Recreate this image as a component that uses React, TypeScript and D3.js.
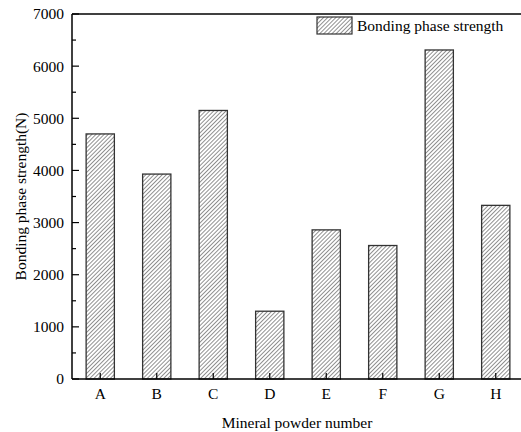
import React from "react";
import * as d3 from "d3";

const categories = ["A", "B", "C", "D", "E", "F", "G", "H"];
const strengthValues = [4700, 3930, 5150, 1300, 2860, 2560, 6310, 3330];
const yTicks = [0, 1000, 2000, 3000, 4000, 5000, 6000, 7000];
const yMinorTicks = [500, 1500, 2500, 3500, 4500, 5500, 6500];
const seriesName = "Bonding phase strength";
const xTitle = "Mineral powder number";
const yTitle = "Bonding phase strength(N)";

export default function App() {
  const W = 521, H = 432;
  const left = 72, right = 524, top = 14, bottom = 379;
  const x = d3.scaleBand<string>().domain(categories).range([left, right]).paddingInner(0.5).paddingOuter(0.25);
  const y = d3.scaleLinear().domain([0, 7000]).range([bottom, top]);
  const font = "'Liberation Serif', 'Times New Roman', serif";
  const fs = 15.5;
  return (
    <svg width={W} height={H} style={{ position: "absolute", left: 0, top: 0 }} fontFamily={font}>
      <defs>
        <pattern id="hatch" patternUnits="userSpaceOnUse" width={2.9} height={2.9} patternTransform="rotate(45)">
          <line x1={0} y1={0} x2={0} y2={2.9} stroke="#222" strokeWidth={1} />
        </pattern>
      </defs>
      <rect width={W} height={H} fill="#fff" />
      {categories.map((c, i) => (
        <rect key={c} x={x(c)} y={y(strengthValues[i])} width={x.bandwidth()} height={bottom - y(strengthValues[i])}
          fill="url(#hatch)" stroke="#333" strokeWidth={1.3} />
      ))}
      <line x1={left} y1={top} x2={left} y2={bottom} stroke="#000" strokeWidth={1.5} />
      <line x1={left} y1={bottom} x2={W} y2={bottom} stroke="#000" strokeWidth={1.5} />
      <line x1={left} y1={top} x2={W} y2={top} stroke="#000" strokeWidth={1.5} />
      {yTicks.map(t => (
        <g key={t}>
          <line x1={left} x2={left + 7} y1={y(t)} y2={y(t)} stroke="#000" strokeWidth={1.2} />
          <text x={left - 8} y={y(t)} dy="0.35em" textAnchor="end" fontSize={fs}>{t}</text>
        </g>
      ))}
      {yMinorTicks.map(t => (
        <line key={t} x1={left} x2={left + 4} y1={y(t)} y2={y(t)} stroke="#000" strokeWidth={1.2} />
      ))}
      {categories.map(c => {
        const cx = (x(c) as number) + x.bandwidth() / 2;
        return (
          <g key={c}>
            <line x1={cx} x2={cx} y1={bottom} y2={bottom - 6} stroke="#000" strokeWidth={1.2} />
            <text x={cx} y={399} textAnchor="middle" fontSize={fs}>{c}</text>
          </g>
        );
      })}
      <text x={297} y={428} textAnchor="middle" fontSize={fs}>{xTitle}</text>
      <text transform={`translate(26,${(top + bottom) / 2}) rotate(-90)`} textAnchor="middle" fontSize={fs}>{yTitle}</text>
      <rect x={317} y={17} width={35} height={17} fill="url(#hatch)" stroke="#333" strokeWidth={1.2} />
      <text x={357} y={31} fontSize={fs}>{seriesName}</text>
    </svg>
  );
}
